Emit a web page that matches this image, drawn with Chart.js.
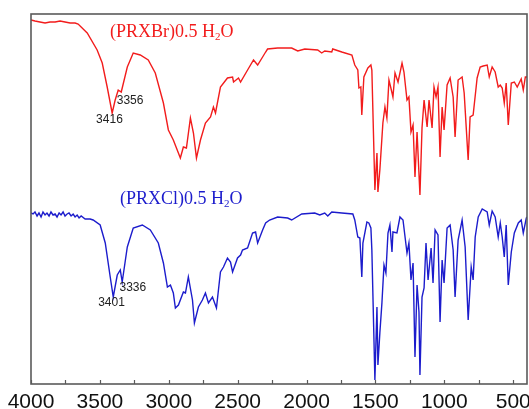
<!DOCTYPE html>
<html>
<head>
<meta charset="utf-8">
<script src="https://cdn.jsdelivr.net/npm/chart.js@4"></script>
<style>
  html, body { margin: 0; padding: 0; background: #fff; }
  #wrap { width: 529px; height: 409px; }
</style>
</head>
<body>
<div id="wrap"><canvas id="irChart"></canvas></div>
<script>
// wavenumber ticks (cm-1)
const tickVals = [4000, 3500, 3000, 2500, 2000, 1500, 1000, 500];

// (PRXBr)0.5H2O spectrum (arbitrary transmittance units)
const brWn = [4000,3971,3935,3898,3862,3825,3789,3753,3716,3680,3658,3592,3520,3483,3447,3411,3389,3367,3345,3301,3258,3207,3149,3098,3039,3003,2967,2916,2894,2872,2843,2821,2799,2770,2734,2697,2676,2661,2625,2574,2537,2530,2494,2479,2428,2385,2355,2319,2297,2283,2210,2108,2064,2013,1919,1890,1868,1817,1810,1744,1671,1650,1628,1620,1606,1599,1584,1555,1533,1526,1504,1489,1482,1468,1446,1431,1417,1402,1388,1373,1358,1336,1307,1293,1271,1257,1242,1227,1213,1198,1177,1162,1147,1125,1111,1089,1075,1060,1046,1031,1016,1002,980,958,936,922,900,871,856,827,813,791,769,762,740,718,689,674,653,631,609,594,580,565,551,536,514,492,471,442,427,412,400];
const brT = [90.75,90.5,90.25,90,90.25,90.25,90.5,90.25,90,90,89.75,87.5,83.25,80,74,67.5,70.75,73.25,72.75,79,82.5,82,80.75,77.5,70,63.25,60.75,56.25,59,58.75,66.25,62.5,56.25,60.75,65,66.5,69,67.5,74,76.25,76.5,75.25,76.25,75.25,78.25,80.75,79.5,81.5,82.75,83.5,83.75,83.75,83,83.5,83.25,82.5,83,82.75,83.5,82.75,82,79.5,78.25,73.75,74,67,76.5,78.75,79.5,78.25,48.25,57.5,47.75,53.25,65,69,66.25,75.75,73.75,71.5,77.5,75.25,80,77.75,70.75,71.5,62.75,64.5,51.5,62.75,47,63.75,70.75,64,70.75,63.75,74,71.5,74,56.5,69,63.25,74.5,76.25,71.5,61.5,75.75,76.5,72.5,55.75,66.5,67,74,76.25,79,79.25,79.5,76.5,79,77.75,74,74.5,73.75,70,75,64.5,75,75.25,74,76,73.25,76.5,76.5];

// (PRXCl)0.5H2O spectrum
const clWn = [4000,3985,3971,3956,3942,3927,3913,3898,3884,3869,3855,3840,3825,3811,3796,3782,3767,3753,3738,3724,3709,3694,3680,3665,3651,3636,3607,3571,3549,3498,3461,3425,3403,3374,3352,3338,3301,3258,3192,3134,3076,3039,3010,2988,2967,2952,2930,2894,2879,2858,2828,2814,2785,2756,2734,2712,2683,2654,2625,2603,2574,2552,2537,2501,2479,2465,2428,2392,2370,2355,2319,2297,2268,2210,2137,2108,2035,1941,1904,1868,1846,1817,1744,1664,1650,1628,1613,1599,1591,1562,1548,1533,1526,1504,1489,1482,1468,1453,1438,1424,1409,1395,1380,1373,1344,1322,1300,1271,1257,1242,1227,1213,1198,1184,1177,1162,1147,1133,1118,1096,1082,1067,1046,1031,1016,1002,980,958,936,922,900,871,849,827,805,791,776,754,725,689,674,653,631,609,594,580,565,551,536,514,492,463,442,427,405,400];
const clT = [42.5,42.25,42.75,41.75,42.5,41.5,42.75,42,42.5,41.75,42.75,42,42.25,41.5,42.5,42,42.75,41.75,42.25,42.5,41.75,42.25,41.5,42,41.25,41.75,41,41,40.75,39.5,35,26.5,21.5,27,28.25,25.25,34,38.75,39.5,38.25,35,30,24,24.5,22.5,18.75,19.5,22.75,22.5,26.5,20.75,15,19,20.75,22.5,20,21.5,18.75,27.75,29,31.25,30.25,27.75,31.25,32,33.25,33.75,37.5,37.75,35,38.25,40,40.75,41.5,41.25,40.75,42.25,42.5,42,42.5,41.75,42.75,42.5,42.25,40.75,36.5,36.25,26.5,35,40.25,40,38.75,33.25,0.75,19,4.5,12.5,20,29.5,27.5,37.5,39.5,32.75,37.75,37.5,41.5,40.75,32.5,35,25.75,30,6.5,24.5,17.75,2,21.5,23.75,35,25.75,33.75,25,38.25,37,15.25,30.75,25,38.75,39.5,33.25,21.5,35.75,40.75,34,15.75,29,25.75,36.5,41.5,43.5,42.75,39.5,43,41.5,36.5,40,36.5,31.5,39.5,24.5,32.75,37.5,40,40.75,37.5,41.25,41.5];

// peak annotations: text, wavenumber, height of the text (same units as the spectra)
const peakText = ['3416', '3356', '3401', '3336'];
const peakWn = [3416, 3356, 3401, 3336];
const peakY = [65.75, 70.5, 20, 23.75];
const peakAlign = ['center', 'left', 'center', 'left'];

const seriesNames = ['(PRXBr)0.5 H', '(PRXCl)0.5 H'];
const seriesColors = ['#f21c1c', '#1c1ccc'];

function toPoints(xs, ys) {
  return xs.map((x, i) => ({ x: x, y: ys[i] }));
}

// frame + inward ticks
const framePlugin = {
  id: 'frame',
  afterDraw(chart) {
    const { ctx, chartArea: a, scales } = chart;
    ctx.save();
    ctx.strokeStyle = '#5a5a5a';
    ctx.lineWidth = 1.6;
    ctx.strokeRect(a.left, a.top, a.right - a.left, a.bottom - a.top);
    ctx.lineWidth = 1.2;
    ctx.beginPath();
    for (let v = 500; v <= 4000; v += 250) {
      const px = Math.round(scales.x.getPixelForValue(v)) + 0.5;
      ctx.moveTo(px, a.bottom);
      ctx.lineTo(px, a.bottom - 4);
    }
    ctx.stroke();
    ctx.restore();
  }
};

// series names with subscript, and peak labels
const labelPlugin = {
  id: 'labels',
  afterDatasetsDraw(chart) {
    const { ctx, scales } = chart;
    ctx.save();
    const spots = [[110, 37], [120, 204]];
    seriesNames.forEach((name, i) => {
      let x = spots[i][0];
      const y = spots[i][1];
      ctx.fillStyle = seriesColors[i];
      ctx.textBaseline = 'alphabetic';
      ctx.textAlign = 'left';
      ctx.font = '18px "Liberation Serif", "Times New Roman", serif';
      ctx.fillText(name, x, y);
      x += ctx.measureText(name).width;
      ctx.font = '11px "Liberation Serif", "Times New Roman", serif';
      ctx.fillText('2', x, y + 3);
      x += ctx.measureText('2').width;
      ctx.font = '18px "Liberation Serif", "Times New Roman", serif';
      ctx.fillText('O', x, y);
    });
    ctx.fillStyle = '#222';
    ctx.font = '12px "Liberation Sans", Arial, sans-serif';
    ctx.textBaseline = 'middle';
    peakText.forEach((t, i) => {
      ctx.textAlign = peakAlign[i];
      let px = scales.x.getPixelForValue(peakWn[i]);
      px += peakAlign[i] === 'left' ? -3 : -2;
      ctx.fillText(t, px, scales.y.getPixelForValue(peakY[i]));
    });
    ctx.restore();
  }
};

new Chart(document.getElementById('irChart'), {
  type: 'line',
  data: {
    datasets: [
      { data: toPoints(brWn, brT), borderColor: seriesColors[0], borderWidth: 1.4, pointRadius: 0, tension: 0 },
      { data: toPoints(clWn, clT), borderColor: seriesColors[1], borderWidth: 1.4, pointRadius: 0, tension: 0 }
    ]
  },
  options: {
    responsive: true,
    maintainAspectRatio: false,
    animation: false,
    layout: { padding: { left: 31, right: 2, top: 14, bottom: 0 } },
    plugins: { legend: { display: false }, tooltip: { enabled: false } },
    scales: {
      x: {
        type: 'linear',
        reverse: true,
        min: 400,
        max: 4000,
        grid: { display: false, drawTicks: false },
        border: { display: false },
        ticks: {
          padding: 6,
          color: '#111',
          maxRotation: 0,
          autoSkip: false,
          font: { family: '"Liberation Sans", Arial, sans-serif', size: 21 },
          callback: v => String(v)
        },
        afterBuildTicks: s => { s.ticks = tickVals.map(v => ({ value: v })); },
        afterFit: s => { s.height = 25; s.paddingLeft = 0; s.paddingRight = 0; }
      },
      y: {
        display: false,
        min: -0.25,
        max: 92.25
      }
    }
  },
  plugins: [framePlugin, labelPlugin]
});
</script>
</body>
</html>
